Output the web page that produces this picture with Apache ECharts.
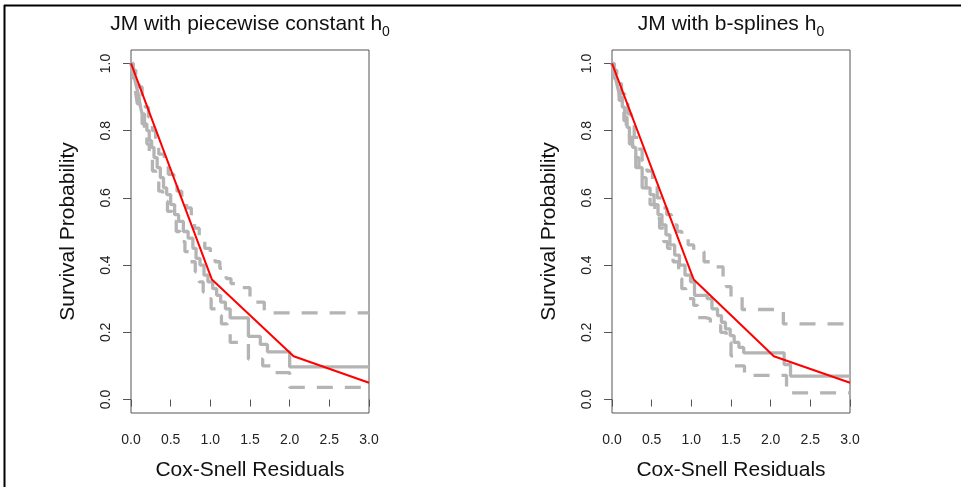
<!DOCTYPE html>
<html>
<head>
<meta charset="utf-8">
<script src="https://cdn.jsdelivr.net/npm/echarts@6/dist/echarts.min.js"></script>
<style>
html,body{margin:0;padding:0;background:#fff;}
#chart{width:961px;height:487px;}
</style>
</head>
<body>
<div id="chart"></div>
<script>
// ---- Data ----
const TITLES = ['JM with piecewise constant h', 'JM with b-splines h'];
const TITLE_SUB = '0';
const X_NAME = 'Cox-Snell Residuals';
const Y_NAME = 'Survival Probability';
const X_TICKS = [0, 0.5, 1.0, 1.5, 2.0, 2.5, 3.0];
const Y_TICKS = [0, 0.2, 0.4, 0.6, 0.8, 1.0];

// Left panel: Kaplan-Meier of residuals (solid), its CI (dashed), model fit (red)
const leftKmT = [0,0.02,0.04,0.06,0.08,0.10,0.12,0.14,0.17,0.20,0.23,0.26,0.29,0.33,0.37,0.41,0.45,0.50,0.55,0.60,0.66,0.72,0.78,0.82,0.87,0.92,0.97,1.03,1.08,1.13,1.19,1.25,1.48,1.63,1.72,2.00,3.00];
const leftKmS = [1.0,0.98,0.96,0.94,0.92,0.90,0.87,0.85,0.82,0.80,0.77,0.75,0.72,0.69,0.66,0.63,0.61,0.58,0.55,0.53,0.50,0.48,0.45,0.42,0.40,0.37,0.35,0.33,0.31,0.29,0.27,0.243,0.188,0.164,0.142,0.097,0.097];
const leftUpT = [0,0.03,0.06,0.10,0.14,0.18,0.22,0.27,0.31,0.35,0.42,0.47,0.54,0.58,0.64,0.70,0.76,0.80,0.86,0.93,1.00,1.06,1.12,1.20,1.26,1.32,1.50,1.68,3.00];
const leftUpS = [1.0,0.98,0.96,0.93,0.90,0.87,0.84,0.80,0.77,0.73,0.70,0.67,0.645,0.62,0.59,0.57,0.54,0.51,0.48,0.45,0.43,0.41,0.39,0.36,0.345,0.333,0.29,0.258,0.258];
const leftLoT = [0,0.02,0.04,0.06,0.08,0.11,0.14,0.17,0.20,0.23,0.27,0.31,0.35,0.40,0.46,0.52,0.57,0.62,0.68,0.75,0.81,0.86,0.91,0.96,1.01,1.07,1.14,1.21,1.25,1.48,1.66,1.77,2.00,3.00];
const leftLoS = [1.0,0.97,0.94,0.91,0.88,0.85,0.82,0.79,0.76,0.72,0.68,0.65,0.62,0.59,0.56,0.53,0.50,0.47,0.44,0.41,0.38,0.35,0.32,0.30,0.27,0.25,0.225,0.21,0.17,0.12,0.10,0.08,0.036,0.036];
const leftFitT = [0, 1.02, 2.05, 3.0];
const leftFitS = [1.0, 0.357, 0.129, 0.05];

// Right panel
const rightKmT = [0,0.02,0.04,0.06,0.08,0.10,0.13,0.16,0.19,0.22,0.26,0.30,0.34,0.38,0.43,0.48,0.53,0.58,0.63,0.68,0.73,0.79,0.85,0.92,0.99,1.04,1.20,1.26,1.33,1.38,1.43,1.49,1.54,1.60,1.66,2.17,2.25,3.00];
const rightKmS = [1.0,0.98,0.96,0.94,0.92,0.90,0.87,0.84,0.81,0.78,0.75,0.72,0.69,0.66,0.63,0.61,0.58,0.55,0.52,0.49,0.46,0.43,0.40,0.37,0.35,0.31,0.30,0.27,0.25,0.23,0.21,0.19,0.17,0.155,0.139,0.104,0.070,0.070];
const rightUpT = [0,0.03,0.06,0.09,0.12,0.16,0.20,0.24,0.28,0.33,0.38,0.44,0.51,0.57,0.63,0.69,0.75,0.82,0.88,0.96,1.03,1.16,1.28,1.40,1.44,1.50,1.64,2.16,3.00];
const rightUpS = [1.0,0.98,0.96,0.94,0.91,0.88,0.85,0.82,0.78,0.745,0.71,0.68,0.655,0.60,0.57,0.55,0.52,0.50,0.48,0.46,0.44,0.41,0.395,0.366,0.336,0.306,0.268,0.225,0.225];
const rightLoT = [0,0.02,0.04,0.06,0.09,0.12,0.15,0.18,0.22,0.26,0.30,0.34,0.38,0.44,0.48,0.54,0.60,0.65,0.70,0.77,0.84,0.88,0.93,1.03,1.08,1.18,1.24,1.37,1.44,1.50,1.54,1.67,2.20,3.00];
const rightLoS = [1.0,0.97,0.94,0.92,0.89,0.86,0.83,0.80,0.76,0.72,0.69,0.66,0.63,0.61,0.58,0.54,0.51,0.47,0.45,0.41,0.36,0.33,0.30,0.28,0.244,0.24,0.22,0.20,0.17,0.13,0.10,0.072,0.020,0.020];
const rightFitT = [0, 1.03, 2.04, 3.0];
const rightFitS = [1.0, 0.357, 0.129, 0.05];

// ---- Build chart ----
const FONT = '"Liberation Sans", Arial, Helvetica, sans-serif';
const GRAY = '#b4b4b4';
const AXISC = '#555555';
const zip = (a, b) => a.map((v, i) => [v, b[i]]);

const panels = [
  {left: 131, km: zip(leftKmT, leftKmS), up: zip(leftUpT, leftUpS), lo: zip(leftLoT, leftLoS), fit: zip(leftFitT, leftFitS)},
  {left: 612, km: zip(rightKmT, rightKmS), up: zip(rightUpT, rightUpS), lo: zip(rightLoT, rightLoS), fit: zip(rightFitT, rightFitS)}
];
const GW = 238, GTOP = 50, GH = 363;

const grids = [], xAxes = [], yAxes = [], series = [], graphics = [];
panels.forEach((p, i) => {
  grids.push({left: p.left, top: GTOP, width: GW, height: GH, show: true,
    borderColor: AXISC, borderWidth: 1, backgroundColor: 'transparent', containLabel: false});
  xAxes.push({type: 'value', gridIndex: i, min: 0, max: 3, interval: 0.5,
    name: X_NAME, nameLocation: 'middle', nameGap: 47,
    nameTextStyle: {fontFamily: FONT, fontSize: 21, color: '#111'},
    axisLine: {show: false}, splitLine: {show: false},
    axisTick: {show: true, length: 7, lineStyle: {color: AXISC, width: 1}},
    axisLabel: {margin: 20, fontFamily: FONT, fontSize: 14, color: '#222',
      formatter: v => v.toFixed(1), showMinLabel: true, showMaxLabel: true}});
  yAxes.push({type: 'value', gridIndex: i, min: -0.04, max: 1.04,
    name: Y_NAME, nameLocation: 'middle', nameGap: 52,
    nameTextStyle: {fontFamily: FONT, fontSize: 21, color: '#111'},
    axisLine: {show: false}, splitLine: {show: false},
    axisTick: {show: true, length: 8, customValues: Y_TICKS, lineStyle: {color: AXISC, width: 1}},
    axisLabel: {margin: 18, rotate: 90, fontFamily: FONT, fontSize: 14, color: '#222',
      customValues: Y_TICKS, formatter: v => v.toFixed(1)}});
  const common = {type: 'line', xAxisIndex: i, yAxisIndex: i, showSymbol: false, symbol: 'none', animation: false, silent: true};
  series.push(Object.assign({}, common, {data: p.lo, step: 'end', lineStyle: {color: GRAY, width: 3.3, type: [16, 12]}, z: 2}));
  series.push(Object.assign({}, common, {data: p.up, step: 'end', lineStyle: {color: GRAY, width: 3.3, type: [16, 12]}, z: 2}));
  series.push(Object.assign({}, common, {data: p.km, step: 'end', lineStyle: {color: GRAY, width: 3.3, type: 'solid'}, z: 3}));
  series.push(Object.assign({}, common, {data: p.fit, lineStyle: {color: '#ff0000', width: 2}, z: 4}));
  graphics.push({type: 'text', x: p.left + GW / 2, y: 24, z: 10,
    style: {text: '{t|' + TITLES[i] + '}{s|' + TITLE_SUB + '}', align: 'center', verticalAlign: 'middle',
      textAlign: 'center', textVerticalAlign: 'middle', fill: '#111', fontFamily: FONT, fontSize: 21,
      rich: {t: {fontSize: 21, fontFamily: FONT, fill: '#111', lineHeight: 30, verticalAlign: 'middle'},
             s: {fontSize: 14, fontFamily: FONT, fill: '#111', lineHeight: 30, verticalAlign: 'bottom'}}}});
});
// outer frame (top and left edges)
graphics.push({type: 'line', shape: {x1: 4, y1: 5.5, x2: 961, y2: 5.5}, style: {stroke: '#000', lineWidth: 2}});
graphics.push({type: 'line', shape: {x1: 4.5, y1: 5, x2: 4.5, y2: 487}, style: {stroke: '#000', lineWidth: 2}});

const chart = echarts.init(document.getElementById('chart'), null, {renderer: 'canvas'});
chart.setOption({animation: false, backgroundColor: '#fff', grid: grids, xAxis: xAxes, yAxis: yAxes, series: series, graphic: graphics});
</script>
</body>
</html>
